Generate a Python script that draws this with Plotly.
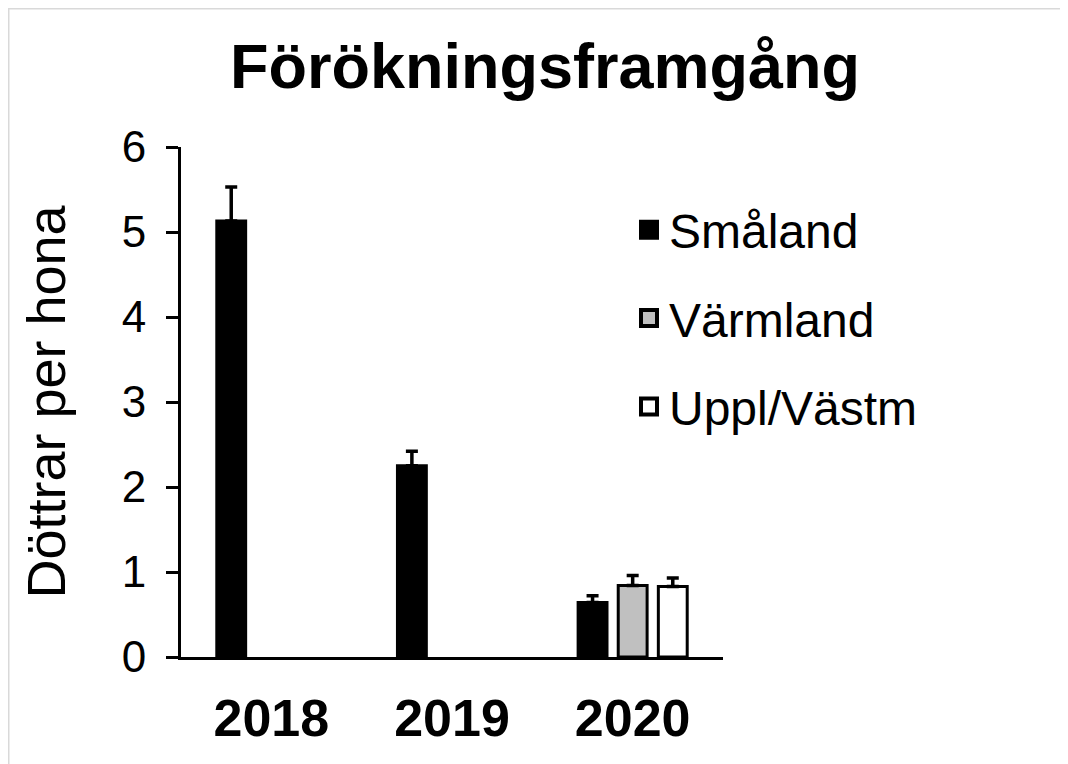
import plotly.graph_objects as go

# ---- data ----
years = ["2018", "2019", "2020"]
series_names = ["Småland", "Värmland", "Uppl/Västm"]
smaland = [5.13, 2.25, 0.64]
smaland_err = [0.40, 0.17, 0.08]
varmland = [None, None, 0.84]
varmland_err = [0, 0, 0.12]
uppl = [None, None, 0.83]
uppl_err = [0, 0, 0.10]
fills = ["#000000", "#c0c0c0", "#ffffff"]

title_text = "Förökningsframgång"
ytitle_text = "Döttrar per hona"
FONT = "Liberation Sans, Arial, sans-serif"

W, H = 1068, 764
L, R, T, B = 173, 353, 139, 115
PW, PH = W - L - R, H - T - B


def px_x(p):
    return (p - L) / PW


def px_y(p):
    return (H - B - p) / PH


fig = go.Figure()
values = [smaland, varmland, uppl]
errors = [smaland_err, varmland_err, uppl_err]
for name, vals, errs, col in zip(series_names, values, errors, fills):
    fig.add_trace(go.Bar(
        x=years, y=vals, name=name, showlegend=False,
        marker=dict(color=col, line=dict(color="#000000", width=3)),
        error_y=dict(type="data", array=errs, arrayminus=[0, 0, 0], symmetric=False,
                     color="#000000", thickness=3.5, width=6),
    ))

# legend entries
for name, col in zip(series_names, fills):
    fig.add_trace(go.Scatter(
        x=[None], y=[None], mode="markers", name=name, legendgroup=name,
        marker=dict(symbol="square", size=16, color=col,
                    line=dict(color="#000000", width=4)),
    ))

fig.update_layout(
    width=W, height=H,
    paper_bgcolor="#ffffff", plot_bgcolor="#ffffff",
    margin=dict(l=L, r=R, t=T, b=B),
    barmode="group", bargap=0.334, bargroupgap=0.28,
    font=dict(family=FONT, color="#000000"),
    title=dict(text="<b>" + title_text + "</b>", x=537 / W, xanchor="center",
               xref="container", y=1 - 58 / H, yanchor="middle", yref="container",
               font=dict(size=63, family=FONT, color="#000000")),
    legend=dict(x=px_x(621), xanchor="left", y=px_y(184), yanchor="top",
                font=dict(size=48, family=FONT, color="#000000"),
                bgcolor="rgba(0,0,0,0)", tracegroupgap=23, itemsizing="trace"),
    xaxis=dict(type="category", showline=True, linecolor="#000000", linewidth=3,
               ticks="", showgrid=False, zeroline=False,
               tickfont=dict(size=52, family=FONT, color="#000000", weight="bold"),
               ticklabelstandoff=14),
    yaxis=dict(range=[0, 6], dtick=1, showline=True, linecolor="#000000", linewidth=3,
               ticks="outside", ticklen=12, tickwidth=3, tickcolor="#000000",
               showgrid=False, zeroline=False, ticklabelstandoff=11,
               tickfont=dict(size=44, family=FONT, color="#000000"),
               title=dict(text=ytitle_text, font=dict(size=54, family=FONT, color="#000000"),
                          standoff=39)),
    shapes=[
        dict(type="line", xref="paper", yref="paper",
             x0=px_x(0), x1=px_x(W + 20), y0=px_y(0.5), y1=px_y(0.5),
             line=dict(color="#d9d9d9", width=2), layer="below"),
        dict(type="line", xref="paper", yref="paper",
             x0=px_x(0.5), x1=px_x(0.5), y0=px_y(0), y1=px_y(H + 20),
             line=dict(color="#d9d9d9", width=2), layer="below"),
    ],
)

fig.write_html("out.html")
